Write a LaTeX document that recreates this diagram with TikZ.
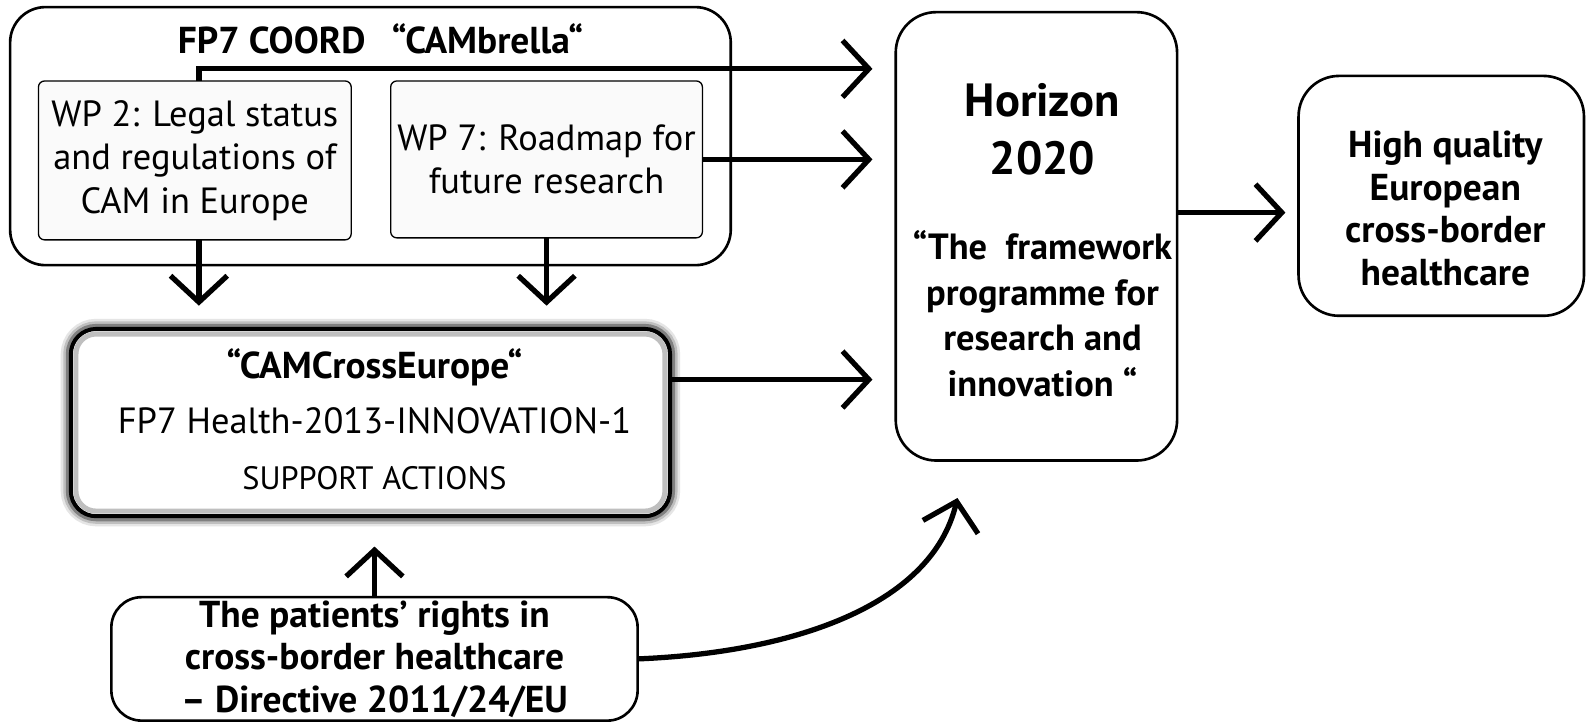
\documentclass[tikz,border=0pt]{standalone}
\usepackage{fontspec}
\setmainfont{PT Sans}
\usetikzlibrary{arrows.meta,calc,backgrounds}
\begin{document}
\begin{tikzpicture}[x=1pt,y=-1pt,
  every node/.style={inner sep=0pt, outer sep=0pt},
  rbox/.style={draw, line width=2.6pt, rounded corners=#1, align=center},
  rbox/.default=35pt,
  wpbox/.style={draw, line width=1.3pt, fill=gray!4, rounded corners=6pt, align=center},
  arr/.style={line width=5.2pt, -{Straight Barb[length=26pt,width=56pt]}},
  nfont/.style={font=\fontsize{36}{43}\selectfont},
  bfont/.style={font=\fontsize{37}{42}\selectfont\bfseries},
  txt/.style={align=center}]
\useasboundingbox (0,0) rectangle (1568,713);

% boxes
\node[rbox, minimum width=712pt, minimum height=255pt] (cambrella) at (366,134.5) {};
\node[bfont] (title) at (376,38) {FP7 COORD\hspace{26pt}“CAMbrella“};
\node[wpbox, nfont, minimum width=309pt, minimum height=157pt] (wp2) at (192.5,158.5) {WP 2: Legal status\\and regulations of\\CAM in Europe};
\node[wpbox, nfont, minimum width=308pt, minimum height=155pt] (wp7) at (540,157.5) {WP 7: Roadmap for\\future research};

\node[draw, line width=4pt, fill=white, rounded corners=25pt, minimum width=592pt, minimum height=185pt] (cam) at (366,417.5) {};
\draw[black!25, line width=5pt, rounded corners=20pt] ($(cam.north west)+(5,5)$) rectangle ($(cam.south east)+(-5,-5)$);
\node[txt, font=\fontsize{36}{55}\selectfont] (camtext) at (370,414) {{\fontsize{37}{40}\selectfont\bfseries “CAMCrossEurope“}\\FP7 Health-2013-INNOVATION-1\\{\fontsize{32}{36}\selectfont SUPPORT ACTIONS}};

\node[rbox=30pt, bfont, minimum width=520pt, minimum height=122pt] (pat) at (370,651) {The patients’ rights in\\cross-border healthcare\\– Directive 2011/24/EU};

\node[rbox=40pt, minimum width=278pt, minimum height=443pt] (hor) at (1024,233.5) {};
\node[txt, font=\fontsize{46}{57}\selectfont\bfseries] (hortitle) at (1030,128) {Horizon\\2020};
\node[txt, font=\fontsize{36}{45}\selectfont\bfseries] (hortext) at (1030,310) {“The\ \ framework\\programme for\\research and\\innovation “};

\node[rbox=40pt, minimum width=282pt, minimum height=237pt] (high) at (1424,193.5) {};
\node[txt, bfont] (hightext) at (1428,206) {High quality\\European\\cross-border\\healthcare};

\begin{scope}[on background layer]
\fill[white] (0,0) rectangle (1568,713);
\foreach \w/\c in {20/black!10, 15/black!25, 10/black!50}
  \draw[line width=\w pt, \c, rounded corners=25pt] (cam.north west) rectangle (cam.south east);
\end{scope}

% connectors
\coordinate (y68) at (0,68);
\coordinate (y375) at (0,375);
\coordinate (y210) at (0,210);
\coordinate (curveend) at (946,492);
\coordinate (wp2n) at ([xshift=4pt]wp2.north);
\coordinate (wp2s) at ([xshift=4pt]wp2.south);
\draw[arr, shorten >=23pt] (wp2n) |- (hor.west |- y68);
\draw[arr, shorten >=23pt] (wp7.east) -- (hor.west |- wp7.east);
\draw[arr, shorten >=23pt] (cam.east |- y375) -- (hor.west |- y375);
\draw[arr, shorten >=23pt] (wp2s) -- (cam.north -| wp2s);
\draw[arr, shorten >=23pt] (wp7.south) -- (cam.north -| wp7.south);
\draw[arr, shorten >=30pt] (pat.north) -- (cam.south -| pat.north);
\draw[arr] (pat.east) .. controls (780,645) and (920,600) .. (curveend);
\draw[arr, shorten >=13pt] (hor.east |- y210) -- (high.west |- y210);
\end{tikzpicture}
\end{document}
